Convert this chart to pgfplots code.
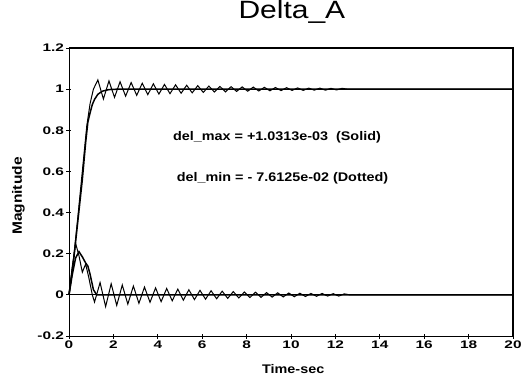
\documentclass[border=0pt]{standalone}
\usepackage{pgfplots}
\pgfplotsset{compat=1.18}
\usepackage{fontspec}
\setmainfont{Liberation Sans}
\newfontfamily\tickfont[FakeStretch=1.4]{Liberation Sans}
\newfontfamily\labfont[FakeStretch=1.15]{Liberation Sans}
\newfontfamily\titfont[FakeStretch=1.2]{Liberation Sans}
\begin{document}
\begin{tikzpicture}
\begin{axis}[
  axis lines=box,
  scale only axis, width=444pt, height=288pt,
  xmin=0, xmax=20, ymin=-0.2, ymax=1.2,
  xtick={0,2,...,20}, ytick={-0.2,0,0.2,0.4,0.6,0.8,1,1.2},
  yticklabels={-0.2,0,0.2,0.4,0.6,0.8,1,1.2},
  xtick pos=bottom, ytick pos=left, tick align=center, major tick length=5pt,
  /pgf/number format/assume math mode=true,
  tick label style={font=\tickfont\bfseries\fontsize{11}{11}\selectfont},
  xticklabel style={yshift=1pt},
  yticklabel style={xshift=1pt},
  every tick/.style={black, line width=0.9pt},
  title={Delta\_A},
  title style={at={(0.502,1.0799)}, anchor=base, font=\titfont\fontsize{25}{25}\selectfont},
  xlabel={Time-sec},
  xlabel style={at={(0.505,-0.1285)}, anchor=base, font=\labfont\bfseries\fontsize{12.5}{12.5}\selectfont},
  ylabel={Magnitude},
  ylabel style={at={(-0.1059,0.486)}, anchor=base, font=\labfont\bfseries\fontsize{13.5}{13.5}\selectfont},
  clip=false,
]
% frame top and right
\addplot[black, line width=1.6pt] coordinates {(0,1.2) (20,1.2) (20,-0.2)};
% zero line
\addplot[black, line width=0.8pt] coordinates {(0,0) (20,0)};
% upper solid
\addplot[black, line width=1.5pt] coordinates {
(0,0) (0.2,0.16) (0.4,0.36) (0.6,0.56) (0.75,0.74) (0.85,0.84) (0.95,0.885) (1.05,0.925) (1.15,0.95) (1.3,0.975) (1.5,0.99) (1.8,0.998) (2.2,1.0) (20,1.0)};
% upper dotted (oscillating)
\addplot[black, line width=1pt] coordinates {
(0,0) (0.2,0.17) (0.4,0.38) (0.6,0.6) (0.8,0.82) (0.95,0.93) (1.1,1.0)
(1.30,1.045) (1.55,0.952) (1.80,1.040) (2.05,0.960) (2.30,1.036) (2.55,0.966)
(2.80,1.032) (3.05,0.970) (3.30,1.029) (3.55,0.973) (3.80,1.026) (4.05,0.976)
(4.30,1.023) (4.55,0.978) (4.80,1.021) (5.05,0.980) (5.30,1.019) (5.55,0.982)
(5.80,1.017) (6.05,0.984) (6.30,1.015) (6.55,0.986) (6.80,1.013) (7.05,0.987)
(7.30,1.012) (7.55,0.989) (7.80,1.011) (8.05,0.990) (8.30,1.010) (8.55,0.991)
(8.80,1.009) (9.05,0.992) (9.30,1.008) (9.55,0.993) (9.80,1.007) (10.05,0.994)
(10.30,1.006) (10.55,0.994) (10.80,1.005) (11.05,0.995) (11.30,1.005) (11.55,0.995)
(11.80,1.004) (12.05,0.996) (12.30,1.004) (12.55,1.0) (20,1.0)};
% lower solid
\addplot[black, line width=1.5pt] coordinates {
(0,0) (0.15,0.1) (0.3,0.18) (0.45,0.21) (0.6,0.185) (0.75,0.155) (0.85,0.14) (0.95,0.1) (1.1,0.025) (1.25,0.0) (2,0) (20,0)};
% lower dotted (oscillating)
\addplot[black, line width=1pt] coordinates {
(0,0) (0.15,0.14) (0.3,0.25) (0.45,0.19) (0.6,0.11) (0.75,0.15) (0.9,0.08) (1.05,0.0) (1.15,-0.035)
(1.40,0.060) (1.65,-0.057) (1.90,0.054) (2.15,-0.051) (2.40,0.048) (2.65,-0.045)
(2.90,0.043) (3.15,-0.041) (3.40,0.038) (3.65,-0.036) (3.90,0.034) (4.15,-0.033)
(4.40,0.031) (4.65,-0.029) (4.90,0.028) (5.15,-0.026) (5.40,0.025) (5.65,-0.023)
(5.90,0.022) (6.15,-0.021) (6.40,0.020) (6.65,-0.019) (6.90,0.018) (7.15,-0.017)
(7.40,0.016) (7.65,-0.015) (7.90,0.014) (8.15,-0.013) (8.40,0.013) (8.65,-0.012)
(8.90,0.011) (9.15,-0.011) (9.40,0.010) (9.65,-0.010) (9.90,0.009) (10.15,-0.009)
(10.40,0.008) (10.65,-0.008) (10.90,0.007) (11.15,-0.007) (11.40,0.007) (11.65,-0.006)
(11.90,0.006) (12.15,-0.006) (12.40,0.005) (12.65,0.0) (20,0.0)};
\node[anchor=base west, inner sep=0pt, font=\labfont\bfseries\fontsize{12.5}{12.5}\selectfont] at (axis cs:4.68,0.749) {del\_max = +1.0313e-03\ \ (Solid)};
\node[anchor=base west, inner sep=0pt, font=\labfont\bfseries\fontsize{12.5}{12.5}\selectfont] at (axis cs:4.85,0.549) {del\_min = - 7.6125e-02 (Dotted)};
\coordinate (bl) at (rel axis cs:-0.1554,-0.15625);
\coordinate (tr) at (rel axis cs:1.027,1.1667);
\end{axis}
\pgfresetboundingbox
\path[use as bounding box] (bl) rectangle (tr);
\end{tikzpicture}
\end{document}
